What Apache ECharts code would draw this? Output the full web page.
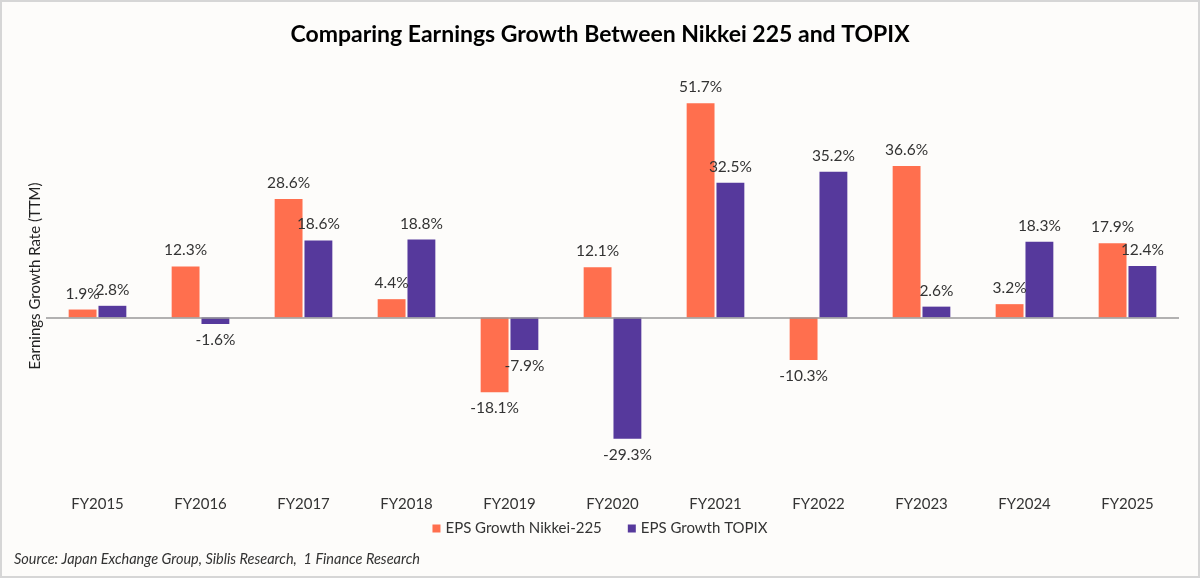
<!DOCTYPE html>
<html>
<head>
<meta charset="utf-8">
<script src="https://cdn.jsdelivr.net/npm/echarts@6/dist/echarts.min.js"></script>
<style>
html, body { margin: 0; padding: 0; background: #fdfcfa; }
#chart { width: 1196px; height: 574px; border: 2px solid #d6d6d6; }
</style>
</head>
<body>
<div id="chart"></div>
<script>
var years = ['FY2015', 'FY2016', 'FY2017', 'FY2018', 'FY2019', 'FY2020', 'FY2021', 'FY2022', 'FY2023', 'FY2024', 'FY2025'];
var nikkei = [1.9, 12.3, 28.6, 4.4, -18.1, 12.1, 51.7, -10.3, 36.6, 3.2, 17.9];
var topix = [2.8, -1.6, 18.6, 18.8, -7.9, -29.3, 32.5, 35.2, 2.6, 18.3, 12.4];

var myChart = echarts.init(document.getElementById('chart'));

// positive labels above, negative below
function withLabels(arr) {
    return arr.map(function (v) {
        return {
            value: v,
            label: { position: v < 0 ? 'bottom' : 'top' }
        };
    });
}

var labelStyle = {
    show: true,
    distance: 8,
    fontFamily: 'Lato',
    fontSize: 15.5,
    color: '#333',
    formatter: function (p) { return p.value.toFixed(1) + '%'; }
};

option = {
    backgroundColor: '#fdfcfa',
    textStyle: { fontFamily: 'Lato' },
    title: {
        text: 'Comparing Earnings Growth Between Nikkei 225 and TOPIX',
        left: 'center',
        top: 16,
        textStyle: { fontFamily: 'Lato', fontSize: 23, fontWeight: 'bold', color: '#000' }
    },
    legend: {
        data: ['EPS Growth Nikkei-225', 'EPS Growth TOPIX'],
        bottom: 35,
        left: 'center',
        itemWidth: 8,
        itemHeight: 8,
        itemGap: 26,
        icon: 'rect',
        textStyle: { fontFamily: 'Lato', fontSize: 15, color: '#333' }
    },
    graphic: [{
        type: 'text',
        left: 12,
        top: 550,
        style: {
            text: 'Source: Japan Exchange Group, Siblis Research,  1 Finance Research',
            font: 'italic 14.5px Lato',
            fill: '#333'
        }
    }],
    grid: { left: 44, right: 19, top: 67, bottom: 93 },
    xAxis: {
        type: 'category',
        data: years,
        axisLine: { show: false, onZero: false },
        axisTick: { show: false },
        axisLabel: { margin: 14, fontFamily: 'Lato', fontSize: 15, color: '#333' }
    },
    yAxis: {
        type: 'value',
        min: -40,
        max: 60,
        axisLabel: { show: false },
        axisLine: { show: false },
        axisTick: { show: false },
        splitLine: { show: false },
        name: 'Earnings Growth Rate (TTM)',
        nameLocation: 'middle',
        nameGap: 3,
        nameTextStyle: { fontFamily: 'Lato', fontSize: 15, color: '#222' }
    },
    series: [{
        name: 'EPS Growth Nikkei-225',
        type: 'bar',
        data: withLabels(nikkei),
        itemStyle: { color: '#ff6f4e' },
        barGap: '7%',
        barCategoryGap: '44%',
        label: labelStyle,
        markLine: {
            silent: true,
            symbol: 'none',
            label: { show: false },
            lineStyle: { color: '#999', type: 'solid', width: 1.5 },
            data: [{ yAxis: 0 }]
        }
    }, {
        name: 'EPS Growth TOPIX',
        type: 'bar',
        data: withLabels(topix),
        itemStyle: { color: '#56399c' },
        label: labelStyle
    }],
    animation: false
};

myChart.setOption(option);
</script>
</body>
</html>
